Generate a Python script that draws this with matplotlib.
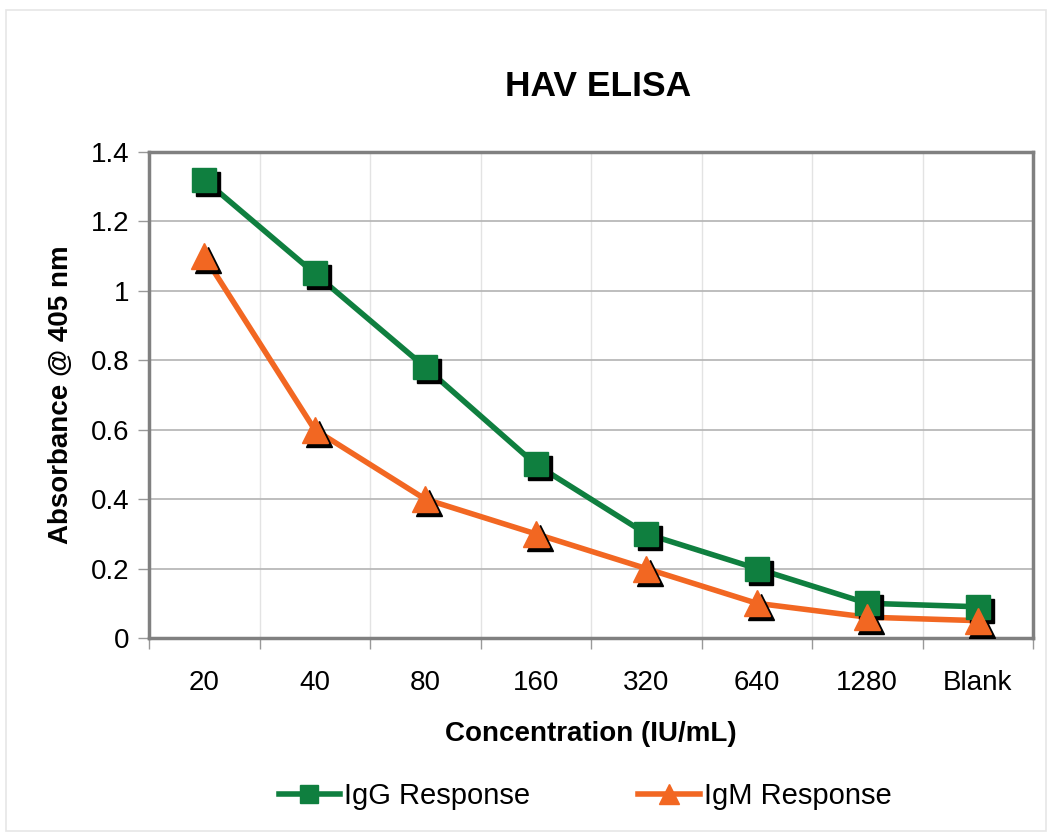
import matplotlib
matplotlib.use("Agg")
import matplotlib.pyplot as plt
import matplotlib.transforms as mtransforms
from matplotlib.ticker import FuncFormatter, MultipleLocator
from matplotlib.patches import Rectangle
from matplotlib.lines import Line2D

categories = ["20", "40", "80", "160", "320", "640", "1280", "Blank"]
igg = [1.32, 1.05, 0.78, 0.50, 0.30, 0.20, 0.10, 0.09]
igm = [1.10, 0.60, 0.40, 0.30, 0.20, 0.10, 0.06, 0.05]

GREEN = "#0f7f3f"
ORANGE = "#f26722"

plt.rcParams["font.family"] = ["Liberation Sans", "DejaVu Sans"]

fig = plt.figure(figsize=(10.6, 8.33), dpi=100)
ax = fig.add_axes([149 / 1060, 1 - 638 / 833, (1033 - 149) / 1060, (638 - 152) / 833])

# outer frame like the spreadsheet chart area
fig.patches.append(Rectangle((6 / 1060, 0.002), 1040 / 1060, 1 - 12 / 833,
                             transform=fig.transFigure, fill=False,
                             edgecolor="#e6e6e6", lw=1.2))

x = list(range(len(categories)))
shadow = mtransforms.offset_copy(ax.transData, fig=fig, x=4, y=-4, units="dots")

ax.plot(x, igg, color=GREEN, lw=4, zorder=3)
ax.plot(x, igm, color=ORANGE, lw=4, zorder=3)
ax.plot(x, igg, ls="none", marker="s", ms=17, color="black", transform=shadow, zorder=4)
ax.plot(x, igg, ls="none", marker="s", ms=17, color=GREEN, zorder=5)
ax.plot(x, igm, ls="none", marker="^", ms=19, color="black", transform=shadow, zorder=4)
ax.plot(x, igm, ls="none", marker="^", ms=19, color=ORANGE, zorder=5)

ax.set_xlim(-0.5, len(categories) - 0.5)
ax.set_ylim(0, 1.4)
ax.yaxis.set_major_locator(MultipleLocator(0.2))
ax.yaxis.set_major_formatter(FuncFormatter(lambda v, p: f"{v:g}"))
ax.set_xticks(x)
ax.set_xticklabels(categories)
ax.set_xticks([i - 0.5 for i in range(len(categories) + 1)], minor=True)

ax.grid(axis="y", color="#b3b3b3", lw=1.2)
ax.grid(axis="x", which="minor", color="#e3e3e3", lw=1.0)
ax.set_axisbelow(True)

ax.tick_params(axis="x", which="major", length=0, labelsize=20, pad=23)
ax.tick_params(axis="x", which="minor", length=8, color="#999999", width=1)
ax.tick_params(axis="y", length=8, color="#999999", width=1, labelsize=20, pad=6)

for side in ["left", "bottom", "top", "right"]:
    ax.spines[side].set_color("#808080")
    ax.spines[side].set_linewidth(2.5)

ax.set_title("HAV ELISA", fontsize=25.5, fontweight="bold", pad=40, x=0.508)
ax.set_xlabel("Concentration (IU/mL)", fontsize=20, fontweight="bold", labelpad=18)
ax.set_ylabel("Absorbance @ 405 nm", fontsize=20, fontweight="bold", labelpad=12)

handles = [Line2D([], [], color=GREEN, lw=4, marker="s", ms=13),
           Line2D([], [], color=ORANGE, lw=4, marker="^", ms=15)]
fig.legend(handles, ["IgG Response", "IgM Response"], loc="center",
           bbox_to_anchor=(0.552, 1 - 796 / 833), ncol=2, frameon=False,
           fontsize=21, handlelength=2.1, handletextpad=0.15, columnspacing=3.7)

fig.savefig("out.png", dpi=100)
